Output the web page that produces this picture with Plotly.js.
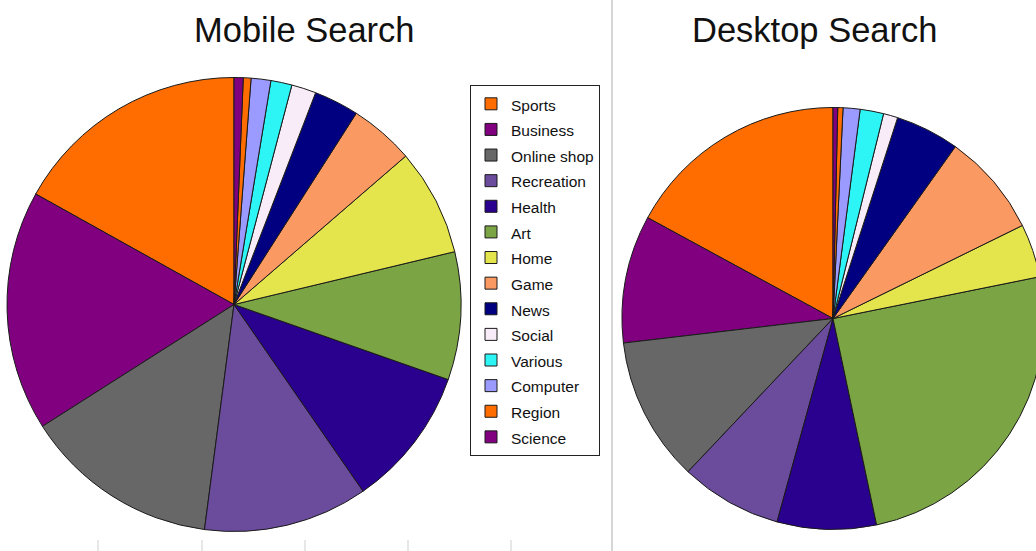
<!DOCTYPE html>
<html>
<head>
<meta charset="utf-8">
<script src="https://cdn.plot.ly/plotly-3.0.1.min.js"></script>
<style>
  html, body { margin: 0; padding: 0; background: #ffffff; overflow: hidden; }
  #chart { width: 1060px; height: 551px; }
</style>
</head>
<body>
<div id="chart"></div>
<script>
// ---- data ----
const categories = ["Sports", "Business", "Online shop", "Recreation", "Health", "Art", "Home",
                    "Game", "News", "Social", "Various", "Computer", "Region", "Science"];
const mobileShare  = [16.9, 17.1, 13.9, 11.7, 10.0, 9.1, 7.6, 4.6, 3.2, 1.75, 1.5, 1.4, 0.55, 0.65];
const desktopShare = [17.1, 9.8, 11.1, 7.8, 7.6, 24.9, 4.1, 7.9, 4.9, 1.1, 1.8, 1.3, 0.4, 0.36];
const sliceColors  = ["#ff6d00", "#800080", "#676767", "#6b4b9b", "#2a008f", "#7ba444", "#e4e44c",
                      "#fb9962", "#000080", "#f8ecf8", "#2ef5f5", "#9a9aff", "#ff6d00", "#800080"];
const chartTitles  = ["Mobile Search", "Desktop Search"];

// ---- layout helpers ----
const W = 1060, H = 551;
function domainFor(cx, cy, r) {
  return { x: [(cx - r) / W, (cx + r) / W], y: [(H - cy - r) / H, (H - cy + r) / H] };
}
// Plotly's counterclockwise pies end the first slice at the rotation angle;
// turn so that the first slice starts at 12 o'clock instead.
function firstSliceStart(vals) {
  const total = vals.reduce((a, b) => a + b, 0);
  return -360 * vals[0] / total;
}

const legendLabels = categories.map(c => '<span style="font-size:15.5px">' + c + '</span>');

const common = {
  type: 'pie',
  labels: legendLabels,
  sort: false,
  direction: 'counterclockwise',
  textinfo: 'none',
  hoverinfo: 'label+percent',
  marker: { colors: sliceColors, line: { color: '#1a1a1a', width: 1 } }
};

const traces = [
  Object.assign({}, common, { name: chartTitles[0], values: mobileShare,
    rotation: firstSliceStart(mobileShare), domain: domainFor(234, 304.5, 227) }),
  Object.assign({}, common, { name: chartTitles[1], values: desktopShare,
    rotation: firstSliceStart(desktopShare), domain: domainFor(833, 318.5, 211), showlegend: false })
];

const shapes = [
  { type: 'line', xref: 'paper', yref: 'paper', x0: 612 / W, x1: 612 / W, y0: 0, y1: 1,
    line: { color: '#d6d6d6', width: 2 } }
];
[98, 202, 305, 408, 511].forEach(px => shapes.push({
  type: 'line', xref: 'paper', yref: 'paper', x0: px / W, x1: px / W, y0: 0, y1: 11 / H,
  line: { color: '#cfcfcf', width: 1 }
}));

const layout = {
  width: W, height: H,
  margin: { l: 0, r: 0, t: 0, b: 0 },
  paper_bgcolor: '#ffffff',
  font: { family: 'Liberation Sans, Arial, sans-serif', color: '#111111' },
  showlegend: true,
  legend: {
    x: 470 / W, y: 1 - 85 / H, xanchor: 'left', yanchor: 'top',
    bgcolor: '#ffffff', bordercolor: '#222222', borderwidth: 1,
    font: { family: 'Liberation Sans, Arial, sans-serif', size: 17.4, color: '#111111' },
    traceorder: 'normal'
  },
  annotations: [
    { text: chartTitles[0], x: 304 / W, y: 1 - 30 / H, xref: 'paper', yref: 'paper',
      xanchor: 'center', yanchor: 'middle', showarrow: false,
      font: { family: 'Liberation Sans, Arial, sans-serif', size: 34.5, color: '#111111' } },
    { text: chartTitles[1], x: 814 / W, y: 1 - 30 / H, xref: 'paper', yref: 'paper',
      xanchor: 'center', yanchor: 'middle', showarrow: false,
      font: { family: 'Liberation Sans, Arial, sans-serif', size: 34.5, color: '#111111' } }
  ],
  shapes: shapes
};

Plotly.newPlot('chart', traces, layout, { displayModeBar: false });
</script>
</body>
</html>
